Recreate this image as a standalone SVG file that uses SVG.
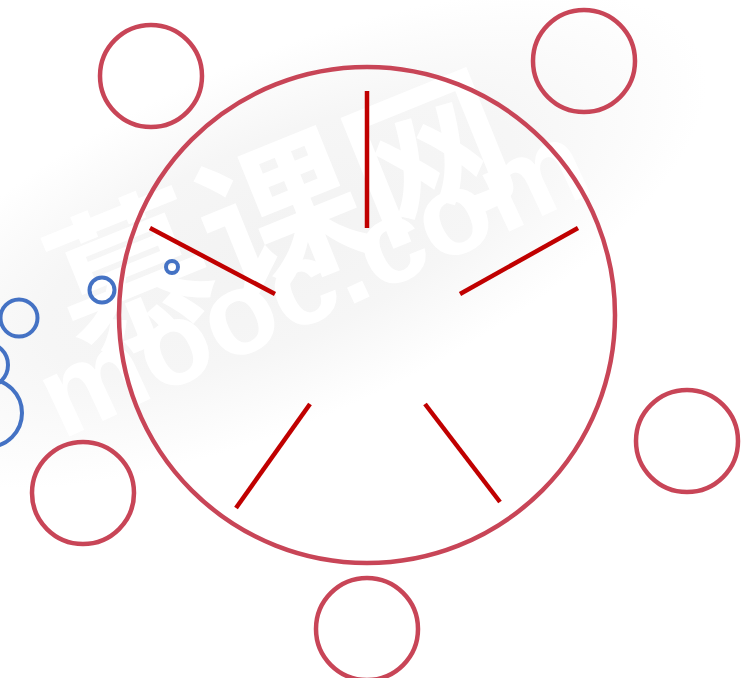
<svg xmlns="http://www.w3.org/2000/svg" width="743" height="678" viewBox="0 0 743 678">
<defs>
<radialGradient id="wm" cx="0.5" cy="0.5" r="0.5">
<stop offset="0" stop-color="#f3f3f3"/>
<stop offset="0.55" stop-color="#f6f6f6"/>
<stop offset="1" stop-color="#ffffff"/>
</radialGradient>
<style>
.ring{fill:none;stroke:#c84557;stroke-width:4.5}
.spoke{stroke:#c00000;stroke-width:4.5;stroke-linecap:butt}
.bub{fill:none;stroke:#4472c4;stroke-width:4}
.wmt{fill:#ffffff}
</style>
</defs>
<rect width="743" height="678" fill="#ffffff"/>
<g id="watermark">
<ellipse cx="280" cy="240" rx="460" ry="180" transform="rotate(-24 280 240)" fill="url(#wm)"/>
<text class="wmt" x="0" y="0" font-size="160" transform="translate(80 360) rotate(-22)" font-family="'Noto Sans CJK SC',sans-serif" font-weight="bold">慕课网</text>
<text class="wmt" x="0" y="0" font-size="118" transform="translate(62 440) rotate(-25)" font-family="'Liberation Sans',Arial,sans-serif" font-weight="bold">mooc.com</text>
</g>
<g id="main-circle">
<circle class="ring" cx="367" cy="315" r="248"/>
</g>
<g id="connectors">
<line class="spoke" x1="367" y1="91" x2="367" y2="228"/>
<line class="spoke" x1="150" y1="228" x2="275" y2="294"/>
<line class="spoke" x1="578" y1="228" x2="460" y2="294"/>
<line class="spoke" x1="310" y1="404" x2="236" y2="508"/>
<line class="spoke" x1="425" y1="404" x2="500" y2="502"/>
</g>
<g id="node-top-left"><circle class="ring" cx="151" cy="76" r="51"/></g>
<g id="node-top-right"><circle class="ring" cx="584" cy="61" r="51"/></g>
<g id="node-right"><circle class="ring" cx="687" cy="441" r="51"/></g>
<g id="node-bottom-left"><circle class="ring" cx="83" cy="493" r="51"/></g>
<g id="node-bottom"><circle class="ring" cx="367" cy="629" r="51"/></g>
<g id="bubbles">
<circle class="bub" cx="172" cy="267" r="6"/>
<circle class="bub" cx="102" cy="290" r="12.5"/>
<circle class="bub" cx="19" cy="318" r="18.5"/>
<circle class="bub" cx="-14" cy="365" r="22"/>
<circle class="bub" cx="-12" cy="413" r="34"/>
</g>
</svg>
